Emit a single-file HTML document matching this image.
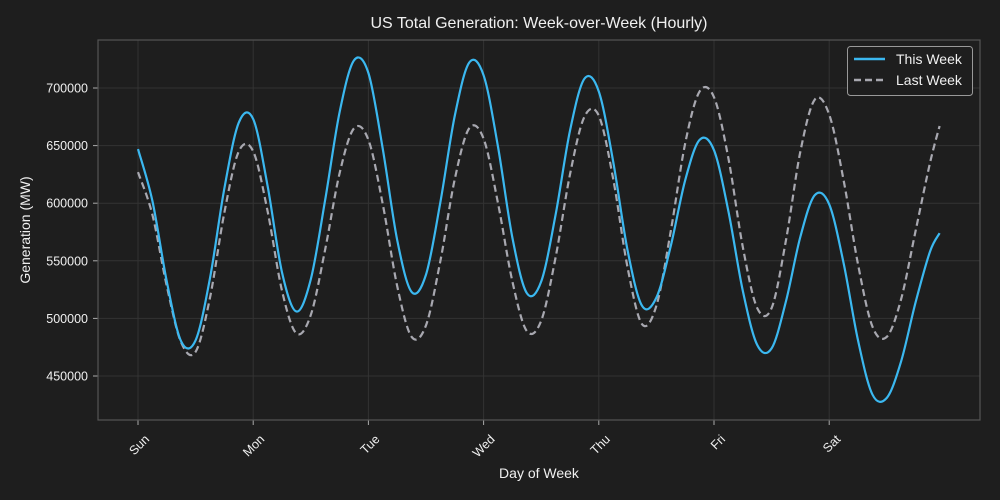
<!DOCTYPE html>
<html><head><meta charset="utf-8"><style>
html,body{margin:0;padding:0;background:#1e1e1e;}
svg{display:block;font-family:"Liberation Sans",sans-serif;}
</style></head><body>
<svg id="chart" width="1000" height="500">
<rect x="0" y="0" width="1000" height="500" fill="#1e1e1e"/>
<g id="grid"></g>
<g id="axes"></g>
<g id="series"></g>
<rect x="98" y="40" width="882" height="380" fill="none" stroke="#555" stroke-width="1.2"/>
<text x="539" y="28" text-anchor="middle" fill="#f0f0f0" font-size="16">US Total Generation: Week-over-Week (Hourly)</text>
<text x="539" y="478" text-anchor="middle" fill="#f0f0f0" font-size="14">Day of Week</text>
<text x="30" y="230" text-anchor="middle" fill="#f0f0f0" font-size="14" transform="rotate(-90 30 230)">Generation (MW)</text>
<g>
<rect x="847.5" y="46.5" width="125" height="49" rx="3" fill="#1e1e1e" stroke="#999" stroke-width="1"/>
<line x1="854" y1="59" x2="885" y2="59" stroke="#3bb8f0" stroke-width="2.5"/>
<text x="896" y="64" fill="#f0f0f0" font-size="14">This Week</text>
<line x1="854" y1="80" x2="885" y2="80" stroke="#a8a8b0" stroke-width="2.5" stroke-dasharray="7,4"/>
<text x="896" y="85" fill="#f0f0f0" font-size="14">Last Week</text>
</g>
</svg>
<script>
const hours = [0,3,6,9,12,15,18,21,24,27,30,33,36,39,42,45,48,51,54,57,60,63,66,69,72,75,78,81,84,87,90,93,96,99,102,105,108,111,114,117,120,123,126,129,132,135,138,141,144,147,150,153,156,159,162,165,167];
const thisWeek = [647,602,532,480,481,535,613,670,673,615,540,506,534,603,679,724,713,647,568,523,538,601,676,722,711,649,570,522,532,590,663,708,697,636,559,511,518,563,620,655,646,593,524,477,474,515,571,607,599,548,481,434,431,463,514,558,574].map(v=>v*1000);
const lastWeek = [627,590,528,479,471,518,592,645,645,593,524,487,503,560,626,665,655,599,528,484,494,550,621,665,656,600,532,489,498,553,625,675,676,621,544,495,511,576,652,697,692,639,562,509,509,568,645,690,677,620,547,493,484,517,576,635,667].map(v=>v*1000);
const dayLabels = ["Sun","Mon","Tue","Wed","Thu","Fri","Sat"];
const yTicks = [450000,500000,550000,600000,650000,700000];

const NS="http://www.w3.org/2000/svg";
const xS = h => 138 + h*4.8;
const yS = v => 88 + (700000 - v)*288/250000;
function mk(tag, attrs, parent){const e=document.createElementNS(NS,tag);for(const k in attrs)e.setAttribute(k,attrs[k]);parent.appendChild(e);return e;}
const grid=document.getElementById('grid'), axes=document.getElementById('axes'), series=document.getElementById('series');

yTicks.forEach(t=>{
  const y=yS(t);
  const g=mk('line',{x1:98,x2:980,y1:y,y2:y,stroke:'#333',"stroke-width":1},grid);
  
  
  const tk=mk('line',{x1:93,x2:98,y1:y,y2:y,stroke:'#aaa'},axes);
  
  
  const tx=mk('text',{x:88,y:y+4.5,"text-anchor":"end",fill:'#f0f0f0',"font-size":12.5},axes);
  tx.textContent=t;
  
  
});
dayLabels.forEach((d,i)=>{
  const x=xS(i*24);
  const g=mk('line',{x1:x,x2:x,y1:40,y2:420,stroke:'#333',"stroke-width":1},grid);
  
  
  const tk=mk('line',{x1:x,x2:x,y1:420,y2:425,stroke:'#aaa'},axes);
  
  
  const ax=x+12, ay=440;
  const tx=mk('text',{x:ax,y:ay,"text-anchor":"end",fill:'#f0f0f0',"font-size":12.5,transform:`rotate(-45 ${ax} ${ay})`},axes);
  tx.textContent=d;
  
  
});
function smoothPath(xs, vs){
  const p=xs.map((h,i)=>[xS(h),yS(vs[i])]);
  let d=`M${p[0][0]},${p[0][1]}`;
  for(let i=0;i<p.length-1;i++){
    const p0=p[i-1]||p[i],p1=p[i],p2=p[i+1],p3=p[i+2]||p[i+1];
    const c1=[p1[0]+(p2[0]-p0[0])/6,p1[1]+(p2[1]-p0[1])/6];
    const c2=[p2[0]-(p3[0]-p1[0])/6,p2[1]-(p3[1]-p1[1])/6];
    d+=` C${c1[0]},${c1[1]} ${c2[0]},${c2[1]} ${p2[0]},${p2[1]}`;
  }
  return d;
}
const lw=mk('path',{d:smoothPath(hours,lastWeek),fill:'none',stroke:'#a8a8b0',"stroke-width":2.2,"stroke-dasharray":"7,4"},series);


const tw=mk('path',{d:smoothPath(hours,thisWeek),fill:'none',stroke:'#3bb8f0',"stroke-width":2.2},series);


</script>
</body></html>
